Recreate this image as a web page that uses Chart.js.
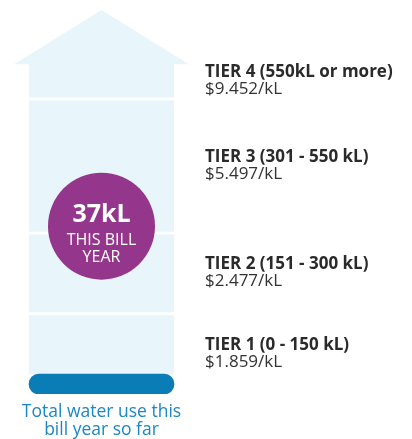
<!DOCTYPE html>
<html>
<head>
<meta charset="utf-8">
<script src="https://cdn.jsdelivr.net/npm/chart.js@4/dist/chart.umd.min.js"></script>
<style>
  html, body { margin: 0; padding: 0; background: #ffffff; }
  #wrap { width: 412px; height: 439px; position: relative; }
</style>
</head>
<body>
<div id="wrap"><canvas id="c"></canvas></div>
<script>
// ---- data ----
const tierNames = ['TIER 1 (0 - 150 kL)', 'TIER 2 (151 - 300 kL)', 'TIER 3 (301 - 550 kL)', 'TIER 4 (550kL or more)'];
const tierPrices = ['$1.859/kL', '$2.477/kL', '$5.497/kL', '$9.452/kL'];
const tierStarts = [0, 150, 300, 550];
const tierEnds = [150, 300, 550, 616];
const usageKL = 37;
const usageUnit = 'kL';
const badgeLines = ['THIS BILL', 'YEAR'];
const axisLabelLines = ['Total water use this', 'bill year so far'];
const category = ['Water use'];

// ---- styles ----
const LIGHT = '#E8F6FB';
const DARK_BLUE = '#0A7CB6';
const TEXT_BLUE = '#1C87C1';
const PURPLE = '#94368B';
const FONT = '"Open Sans", "Noto Sans", sans-serif';
const style = { arrowTipValue: 716, arrowWing: 15, badgeValue: 313, badgeRadius: 53.5, sepHalf: 1.75 };

const tierDatasets = tierNames.map((name, i) => ({
  label: name,
  data: [[i === 0 ? usageKL : tierStarts[i], tierEnds[i]]],
  backgroundColor: LIGHT,
  borderColor: '#ffffff',
  borderWidth: {
    top: i === tierNames.length - 1 ? 0 : style.sepHalf,
    bottom: i === 0 ? 0 : style.sepHalf,
    left: 0, right: 0
  },
  borderSkipped: false,
  grouped: false,
  barThickness: 145,
  order: 2
}));

const usageDataset = {
  label: 'Total water use this bill year so far',
  data: [[0, usageKL]],
  backgroundColor: DARK_BLUE,
  borderWidth: 0,
  borderRadius: 10,
  borderSkipped: false,
  grouped: false,
  barThickness: 145,
  order: 1
};

const infographic = {
  id: 'infographic',
  beforeDatasetsDraw(chart) {
    const ctx = chart.ctx;
    const y = chart.scales.y;
    const meta = chart.getDatasetMeta(tierNames.length - 1);
    const bar = meta.data[0];
    const cx = bar.x, half = bar.width / 2 + style.arrowWing;
    const baseY = y.getPixelForValue(tierEnds[tierEnds.length - 1]);
    const tipY = y.getPixelForValue(style.arrowTipValue);
    ctx.save();
    ctx.fillStyle = LIGHT;
    ctx.beginPath();
    ctx.moveTo(cx - half, baseY + 0.5);
    ctx.lineTo(cx, tipY);
    ctx.lineTo(cx + half, baseY + 0.5);
    ctx.closePath();
    ctx.fill();
    ctx.restore();
  },
  afterDatasetsDraw(chart) {
    const ctx = chart.ctx;
    const y = chart.scales.y;
    const bar = chart.getDatasetMeta(0).data[0];
    const cx = bar.x;
    ctx.save();
    // badge
    const by = y.getPixelForValue(style.badgeValue);
    ctx.fillStyle = PURPLE;
    ctx.beginPath();
    ctx.arc(cx, by, style.badgeRadius, 0, Math.PI * 2);
    ctx.fill();
    ctx.fillStyle = '#ffffff';
    ctx.textAlign = 'center';
    ctx.textBaseline = 'alphabetic';
    ctx.font = 'bold 25px ' + FONT;
    ctx.fillText(usageKL + usageUnit, cx, by - 4);
    ctx.font = '16px ' + FONT;
    ctx.fillText(badgeLines[0], cx, by + 19);
    ctx.fillText(badgeLines[1], cx, by + 36);
    // tier labels
    ctx.textAlign = 'left';
    tierNames.forEach((name, i) => {
      const mid = y.getPixelForValue((tierStarts[i] + tierEnds[i]) / 2);
      ctx.fillStyle = '#2a2a2a';
      ctx.font = 'bold 17px ' + FONT;
      ctx.fillText(name, 205, mid - 4);
      ctx.fillStyle = '#333333';
      ctx.font = '17px ' + FONT;
      ctx.fillText(tierPrices[i], 205, mid + 13);
    });
    // axis label
    ctx.textAlign = 'center';
    ctx.fillStyle = TEXT_BLUE;
    ctx.font = '17.5px ' + FONT;
    const by0 = y.getPixelForValue(0);
    ctx.fillText(axisLabelLines[0], cx, by0 + 23);
    ctx.fillText(axisLabelLines[1], cx, by0 + 41);
    ctx.restore();
  }
};

new Chart(document.getElementById('c'), {
  type: 'bar',
  data: { labels: category, datasets: [...tierDatasets, usageDataset] },
  options: {
    responsive: true,
    maintainAspectRatio: false,
    animation: false,
    layout: { padding: { left: 0, right: 209, top: 10, bottom: 45 } },
    plugins: { legend: { display: false }, tooltip: { enabled: false } },
    scales: {
      x: { display: false },
      y: { display: false, min: 0, max: style.arrowTipValue }
    }
  },
  plugins: [infographic]
});
</script>
</body>
</html>
